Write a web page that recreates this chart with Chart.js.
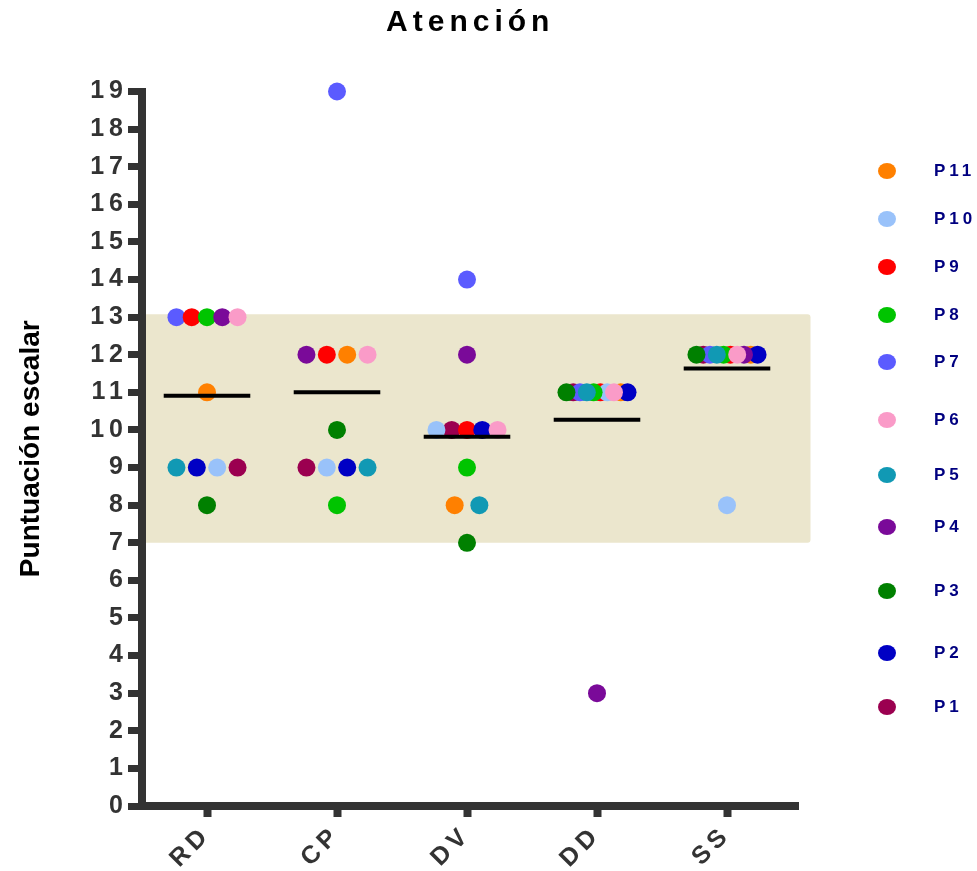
<!DOCTYPE html>
<html>
<head>
<meta charset="utf-8">
<title>Atención</title>
<script src="https://cdn.jsdelivr.net/npm/chart.js@4.4.1/dist/chart.umd.min.js"></script>
<style>
  html, body { margin: 0; padding: 0; background: #fff; }
</style>
</head>
<body>
<canvas id="chart" width="977" height="871"></canvas>
<script>
const categories = ['RD', 'CP', 'DV', 'DD', 'SS'];
const participants = ['P11', 'P10', 'P9', 'P8', 'P7', 'P6', 'P5', 'P4', 'P3', 'P2', 'P1'];
const yTicks = [0, 1, 2, 3, 4, 5, 6, 7, 8, 9, 10, 11, 12, 13, 14, 15, 16, 17, 18, 19];
const normalRange = [7, 13];

// scores per participant, in the order RD, CP, DV, DD, SS
const P1 = [9, 9, 10, 11, 12];
const P2 = [9, 9, 10, 11, 12];
const P3 = [8, 10, 7, 11, 12];
const P4 = [13, 12, 12, 3, 12];
const P5 = [9, 9, 8, 11, 12];
const P6 = [13, 12, 10, 11, 12];
const P7 = [13, 19, 14, 11, 12];
const P8 = [13, 8, 9, 11, 12];
const P9 = [13, 12, 10, 11, 12];
const P10 = [9, 9, 10, 11, 8];
const P11 = [11, 12, 8, 11, 12];
const scores = { P1, P2, P3, P4, P5, P6, P7, P8, P9, P10, P11 };

const colors = {
  P11: '#FF8000', P10: '#99C2FA', P9: '#FF0000', P8: '#00C400', P7: '#5B5BFF',
  P6: '#FA9BC8', P5: '#1199B4', P4: '#7A0A99', P3: '#008000', P2: '#0000C4', P1: '#9B0050'
};

// left-to-right order of the dots when several share a score
const rowOrder = {
  RD: ['P7', 'P9', 'P8', 'P4', 'P6', 'P11', 'P5', 'P2', 'P10', 'P1', 'P3'],
  CP: ['P7', 'P4', 'P9', 'P11', 'P6', 'P3', 'P1', 'P10', 'P2', 'P5', 'P8'],
  DV: ['P7', 'P4', 'P10', 'P1', 'P9', 'P2', 'P6', 'P8', 'P11', 'P5', 'P3'],
  DD: ['P3', 'P1', 'P7', 'P5', 'P8', 'P9', 'P10', 'P6', 'P11', 'P2', 'P4'],
  SS: ['P3', 'P1', 'P7', 'P5', 'P8', 'P9', 'P6', 'P4', 'P11', 'P2', 'P10']
};
// which dots sit on top when they overlap (lower = on top)
const layer = { P2: 2, P3: 2, P4: 2, P5: 2, P6: 2, P8: 3, P1: 4, P7: 4, P9: 4, P10: 4, P11: 4 };

function spread(ci, p) {
  const cat = categories[ci];
  const v = scores[p][ci];
  const group = rowOrder[cat].filter(q => scores[q][ci] === v);
  const n = group.length;
  if (n < 2) return 0;
  const gap = Math.min(0.19, 0.47 / (n - 1));
  return (group.indexOf(p) - (n - 1) / 2) * gap;
}

const means = categories.map((c, i) =>
  participants.reduce((s, p) => s + scores[p][i], 0) / participants.length);

const datasets = participants.map(p => ({
  label: p,
  data: categories.map((c, i) => ({ x: i + 1 + spread(i, p), y: scores[p][i] })),
  backgroundColor: colors[p],
  borderWidth: 0,
  pointRadius: 9,
  pointHoverRadius: 9,
  order: layer[p],
  clip: false
}));

const meanData = [];
means.forEach((m, i) => {
  meanData.push({ x: i + 1 - 0.333, y: m }, { x: i + 1 + 0.333, y: m }, { x: i + 1.5, y: null });
});
datasets.push({
  label: 'Media',
  data: meanData,
  showLine: true,
  spanGaps: false,
  borderColor: '#000',
  borderWidth: 4,
  pointRadius: 0,
  order: 1
});

const font = '"Liberation Sans", Arial, sans-serif';
const legendY = [171, 219, 267, 315, 362, 420, 475, 527, 591, 653, 707];

const extras = {
  id: 'extras',
  beforeDraw(chart) {
    const { ctx, chartArea, scales: { y } } = chart;
    const top = y.getPixelForValue(normalRange[1]);
    const bottom = y.getPixelForValue(normalRange[0]);
    ctx.save();
    ctx.fillStyle = '#EBE6CD';
    ctx.beginPath();
    ctx.roundRect(chartArea.left, top - 3, chartArea.right + 12 - chartArea.left, bottom - top + 3, 3);
    ctx.fill();
    ctx.restore();
    // the original text is drawn wide: title and tick labels get extra tracking
    ctx.letterSpacing = '5px';
  },
  afterDatasetsDraw(chart) {
    chart.ctx.letterSpacing = '0px';
  },
  afterDraw(chart) {
    const ctx = chart.ctx;
    ctx.save();
    ctx.letterSpacing = '4px';
    ctx.font = 'bold 17px ' + font;
    ctx.textBaseline = 'middle';
    chart.data.datasets.slice(0, participants.length).forEach((ds, i) => {
      const ly = legendY[i];
      ctx.fillStyle = ds.backgroundColor;
      ctx.beginPath();
      ctx.ellipse(887, ly, 9, 8, 0, 0, Math.PI * 2);
      ctx.fill();
      ctx.fillStyle = '#000080';
      ctx.fillText(ds.label, 934, ly);
    });
    ctx.restore();
    ctx.letterSpacing = '0px';
  }
};

new Chart(document.getElementById('chart'), {
  type: 'scatter',
  data: { datasets },
  options: {
    responsive: false,
    animation: false,
    layout: { padding: { left: 0, right: 178.5, top: 0, bottom: 0 } },
    plugins: {
      legend: { display: false },
      tooltip: { enabled: false },
      title: {
        display: true,
        text: 'Atención',
        fullSize: false,
        color: '#000',
        font: { family: font, size: 30, weight: 'bold' },
        padding: { top: 5, bottom: 50.5 }
      }
    },
    scales: {
      x: {
        type: 'linear',
        min: 0.5,
        max: 5.55,
        afterBuildTicks: s => { s.ticks = categories.map((c, i) => ({ value: i + 1 })); },
        afterFit: s => { s.height = 65; },
        ticks: {
          callback: v => categories[v - 1],
          color: '#333',
          font: { family: font, size: 25, weight: 'bold' },
          minRotation: 45,
          maxRotation: 45,
          padding: 3
        },
        grid: { drawOnChartArea: false, tickLength: 11, tickWidth: 8, tickColor: '#333', z: 1 },
        border: { color: '#333', width: 8, z: 1 }
      },
      y: {
        min: 0,
        max: 19,
        afterBuildTicks: s => { s.ticks = yTicks.map(v => ({ value: v })); },
        afterFit: s => { s.width = 142; },
        ticks: {
          color: '#333',
          font: { family: font, size: 25, weight: 'bold' },
          padding: 0
        },
        grid: { drawOnChartArea: false, tickLength: 14, tickWidth: 7, tickColor: '#333', z: 1 },
        border: { color: '#333', width: 8, z: 1 },
        title: {
          display: true,
          text: 'Puntuación escalar',
          color: '#000',
          font: { family: font, size: 28, weight: 'bold' },
          padding: { top: 14 }
        }
      }
    }
  },
  plugins: [extras]
});
</script>
</body>
</html>
